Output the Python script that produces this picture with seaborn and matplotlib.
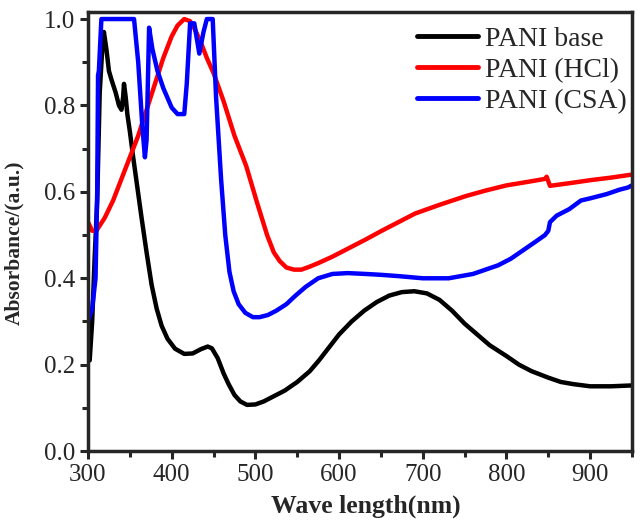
import matplotlib
matplotlib.use('Agg')
import matplotlib.pyplot as plt
import seaborn as sns
import pandas as pd
from matplotlib.ticker import MultipleLocator

# data
base_nm = [300, 302, 305, 308, 311, 314, 317, 319, 322, 325, 328, 333, 337, 340, 342, 343, 345, 347,
           350, 354, 359, 364, 370, 376, 382, 388, 395, 404, 415, 425, 435, 443, 448, 455, 462,
           468, 475, 482, 490, 500, 510, 520, 535, 550, 565, 576, 590, 600, 615, 630, 645, 660,
           675, 690, 705, 720, 735, 750, 765, 780, 800, 815, 830, 850, 865, 880, 900, 925, 950]
base_abs = [0.22, 0.21, 0.30, 0.45, 0.58, 0.83, 0.93, 0.97, 0.93, 0.88, 0.86, 0.83, 0.80, 0.79, 0.82, 0.85, 0.82, 0.78,
            0.74, 0.68, 0.61, 0.54, 0.46, 0.385, 0.33, 0.29, 0.26, 0.237, 0.225, 0.226, 0.236, 0.242, 0.238, 0.215, 0.18,
            0.155, 0.13, 0.115, 0.107, 0.108, 0.115, 0.125, 0.14, 0.16, 0.185, 0.21, 0.245, 0.27, 0.30, 0.325, 0.345, 0.36,
            0.368, 0.37, 0.365, 0.35, 0.325, 0.295, 0.27, 0.245, 0.22, 0.20, 0.185, 0.17, 0.16, 0.155, 0.15, 0.15, 0.152]

hcl_nm = [300, 305, 310, 320, 330, 340, 350, 360, 370, 380, 390, 400, 407, 415, 422, 428,
          435, 442, 450, 462, 475, 489, 502, 514, 522, 529, 537, 546, 555, 565, 575, 592,
          612, 632, 651, 671, 691, 720, 751, 775, 800, 825, 846, 848, 852, 875, 900, 925, 950]
hcl_abs = [0.53, 0.51, 0.51, 0.54, 0.58, 0.63, 0.68, 0.73, 0.79, 0.85, 0.91, 0.96, 0.985, 1.0, 0.995, 0.975,
           0.945, 0.91, 0.875, 0.81, 0.73, 0.66, 0.575, 0.50, 0.46, 0.44, 0.425, 0.42, 0.42, 0.427, 0.435, 0.45,
           0.47, 0.49, 0.51, 0.53, 0.55, 0.57, 0.59, 0.603, 0.615, 0.623, 0.63, 0.635, 0.614, 0.62, 0.627, 0.633, 0.64]

csa_nm = [300, 305, 309, 311, 312, 313, 316, 355, 360, 365, 368, 370, 373, 377, 383, 390, 400,
          407, 415, 418, 422, 427, 433, 438, 442, 449, 453, 459, 464, 469, 474, 480, 488, 497,
          505, 515, 525, 537, 548, 560, 575, 592, 610, 632, 650, 671, 700, 731, 760, 775, 790,
          805, 820, 835, 846, 850, 852, 860, 875, 889, 900, 920, 935, 945, 950]
csa_abs = [0.30, 0.33, 0.40, 0.60, 0.87, 0.88, 1.0, 1.0, 0.90, 0.75, 0.68, 0.72, 0.98, 0.93, 0.88, 0.84, 0.795,
           0.78, 0.78, 0.85, 0.99, 0.99, 0.92, 0.97, 1.0, 1.0, 0.82, 0.63, 0.50, 0.415, 0.37, 0.34, 0.32, 0.31,
           0.31, 0.315, 0.325, 0.34, 0.36, 0.38, 0.40, 0.41, 0.412, 0.41, 0.408, 0.405, 0.40, 0.40, 0.41, 0.42, 0.43,
           0.445, 0.465, 0.485, 0.50, 0.51, 0.53, 0.545, 0.56, 0.58, 0.585, 0.595, 0.605, 0.61, 0.615]

labels = ['PANI base', 'PANI (HCl)', 'PANI (CSA)']
colors = ['black', 'red', 'blue']

sns.set_style('ticks')
plt.rcParams['font.family'] = ['Liberation Serif', 'DejaVu Serif']

fig = plt.figure(figsize=(6.4, 5.27), dpi=100)
ax = fig.add_axes([0.1375, 0.144, 0.85, 0.833])

series = [(base_nm, base_abs), (hcl_nm, hcl_abs), (csa_nm, csa_abs)]
for (x, y), lab, col in zip(series, labels, colors):
    df = pd.DataFrame({'nm': x, 'abs': y})
    sns.lineplot(data=df, x='nm', y='abs', ax=ax, color=col, linewidth=3.2,
                 label=lab, sort=False)

ax.set_xlim(300, 950)
ax.set_ylim(0, 1.016)
ax.xaxis.set_major_locator(MultipleLocator(100))
ax.xaxis.set_minor_locator(MultipleLocator(50))
ax.yaxis.set_minor_locator(MultipleLocator(0.1))
ax.set_yticks([0.0, 0.2, 0.4, 0.6, 0.8, 1.0])
ax.set_yticklabels(['0.0', '0.2', '0.4', '0.6', '0.8', '1.0'])

for s in ax.spines.values():
    s.set_linewidth(2.5)
    s.set_visible(True)
ax.tick_params(which='major', direction='out', length=6, width=2.2, labelsize=18, pad=3)
ax.tick_params(which='minor', direction='out', length=4.3, width=2.2)

ax.set_xlabel('Wave length(nm)', fontsize=18.5, fontweight='bold')
ax.set_ylabel('Absorbance/(a.u.)', fontsize=15.5, fontweight='bold')
ax.xaxis.set_label_coords(0.51, -0.098)
ax.yaxis.set_label_coords(-0.117, 0.474)

leg = ax.legend(loc='upper right', bbox_to_anchor=(1.009, 0.99), frameon=False, fontsize=20,
                handlelength=2.2, handletextpad=0.25, labelspacing=0.2,
                borderaxespad=0.1, borderpad=0.25)
for h in leg.get_lines():
    h.set_linewidth(3.5)

fig.savefig('out.png', dpi=100)
